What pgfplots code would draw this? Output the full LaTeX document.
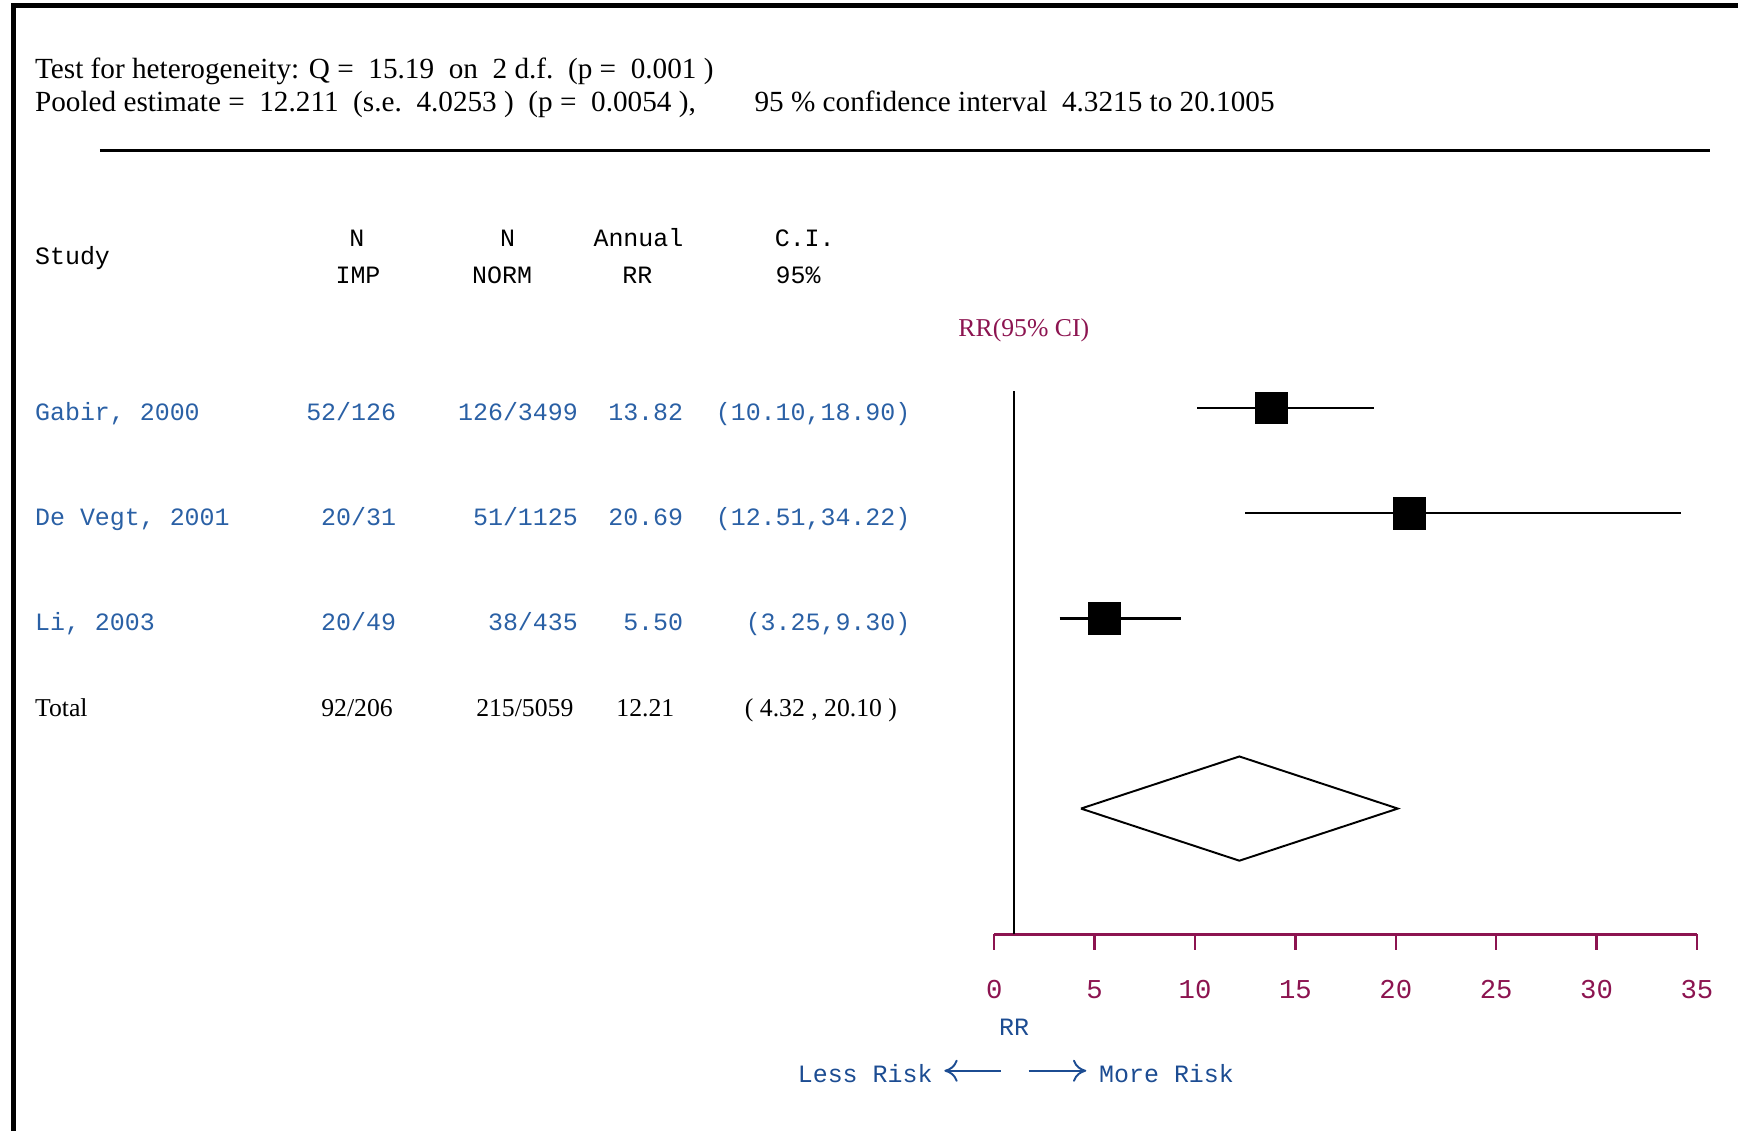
\documentclass[border=0pt]{standalone}
\usepackage{pgfplots}
\pgfplotsset{compat=1.18}
\usetikzlibrary{arrows.meta}
\usepackage{fontspec}
\setmainfont{Liberation Serif}
\setmonofont{Liberation Mono}
\definecolor{stblue}{RGB}{42,96,165}
\definecolor{stnavy}{RGB}{28,76,146}
\definecolor{stpurple}{RGB}{140,20,80}
\newcommand{\TS}{\rmfamily\fontsize{7.5}{9}\selectfont}
\newcommand{\TT}{\rmfamily\fontsize{6.6}{8}\selectfont}
\newcommand{\MS}{\ttfamily\fontsize{6.4}{8}\selectfont}
\begin{document}
\begin{tikzpicture}
\begin{scope}[x=0.1mm,y=-0.1mm]
\path[use as bounding box] (0,0) rectangle (1568,1020);
% frame
\draw[line width=0.4mm] (12,1020) -- (12,5) -- (1568,5);
% summary text
\node[anchor=base west,inner sep=0pt] at (31,71) {\TS Test for heterogeneity: Q =\ \ 15.19\ \ on\ \ 2 d.f.\ \ (p =\ \ 0.001 )};
\node[anchor=base west,inner sep=0pt] at (31,101) {\TS Pooled estimate =\ \ 12.211\ \ (s.e.\ \ 4.0253 )\ \ (p =\ \ 0.0054 ),};
\node[anchor=base west,inner sep=0pt] at (680,101) {\TS 95 \% confidence interval\ \ 4.3215 to 20.1005};
\draw[line width=0.3mm] (90,136) -- (1543,136);
% column headers
\node[anchor=base west,inner sep=0pt] at (31,239) {\MS Study};
\node[anchor=base,inner sep=0pt] at (322,222) {\MS N};
\node[anchor=base,inner sep=0pt] at (323,256) {\MS IMP};
\node[anchor=base,inner sep=0pt] at (458,222) {\MS N};
\node[anchor=base,inner sep=0pt] at (453,256) {\MS NORM};
\node[anchor=base,inner sep=0pt] at (576,222) {\MS Annual};
\node[anchor=base,inner sep=0pt] at (575,256) {\MS RR};
\node[anchor=base,inner sep=0pt] at (726,222) {\MS C.I.};
\node[anchor=base,inner sep=0pt] at (720,256) {\MS 95\%};
\node[anchor=base west,inner sep=0pt,text=stpurple] at (864,304) {\TT RR(95\% CI)};
% study rows
\foreach \yy/\st/\ia/\nb/\rr/\ci in {
  379/{Gabir, 2000}/52\slash126/126\slash3499/13.82/{(10.10,18.90)},
  474/{De Vegt, 2001}/20\slash31/51\slash1125/20.69/{(12.51,34.22)},
  569/{Li, 2003}/20\slash49/38\slash435/5.50/{(3.25,9.30)}}{
  \node[anchor=base west,inner sep=0pt,text=stblue] at (31,\yy) {\MS \st};
  \node[anchor=base east,inner sep=0pt,text=stblue] at (358,\yy) {\MS \ia};
  \node[anchor=base east,inner sep=0pt,text=stblue] at (522,\yy) {\MS \nb};
  \node[anchor=base east,inner sep=0pt,text=stblue] at (617,\yy) {\MS \rr};
  \node[anchor=base east,inner sep=0pt,text=stblue] at (822,\yy) {\MS \ci};
}
% total row
\node[anchor=base west,inner sep=0pt] at (31,646) {\TT Total};
\node[anchor=base east,inner sep=0pt] at (355,646) {\TT 92/206};
\node[anchor=base east,inner sep=0pt] at (518,646) {\TT 215/5059};
\node[anchor=base east,inner sep=0pt] at (609,646) {\TT 12.21};
\node[anchor=base east,inner sep=0pt] at (810,646) {\TT ( 4.32 , 20.10 )};
% axis label and risk arrows
\node[anchor=base,inner sep=0pt,text=stnavy] at (915,934) {\MS RR};
\node[anchor=base east,inner sep=0pt,text=stnavy] at (842,977) {\MS Less Risk};
\node[anchor=base west,inner sep=0pt,text=stnavy] at (991,977) {\MS More Risk};
\draw[stnavy,line width=0.5pt,-{To[length=1.2mm,width=2mm]}] (903,966) -- (852,966);
\draw[stnavy,line width=0.5pt,-{To[length=1.2mm,width=2mm]}] (928,966) -- (980,966);
\end{scope}
\begin{axis}[
  at={(89.7mm,-84.3mm)}, anchor=south west,
  scale only axis, width=63.4mm, height=49.02mm,
  xmin=0, xmax=35, ymin=-2, ymax=3.16,
  clip=false,
  axis x line=bottom, axis y line=none,
  x axis line style={stpurple, line width=0.6pt, -},
  xtick={0,5,10,15,20,25,30,35},
  xticklabels={0,5,10,15,20,25,30,35},
  xtick style={stpurple, line width=0.6pt},
  tick align=outside, major tick length=1.4mm,
  xticklabel style={font=\ttfamily\fontsize{7}{8}\selectfont, text=stpurple},
  xticklabel shift=1.5mm,
]
% reference line at RR = 1
\addplot[black, line width=0.5pt] coordinates {(1,-2) (1,3.16)};
% confidence intervals
\addplot[black, line width=0.6pt] coordinates {(10.10,3) (18.90,3)};
\addplot[black, line width=0.6pt] coordinates {(12.51,2) (34.22,2)};
\addplot[black, line width=0.6pt] coordinates {(3.25,1) (9.30,1)};
% point estimates
\addplot[only marks, mark=square*, mark size=1.4mm, mark options={fill=black, draw=black}]
  coordinates {(13.82,3) (20.69,2) (5.50,1)};
% pooled estimate diamond
\addplot[black, line width=0.5pt] coordinates {(4.32,-0.805) (12.21,-0.31) (20.10,-0.805) (12.21,-1.30) (4.32,-0.805)};
\end{axis}
\end{tikzpicture}
\end{document}
